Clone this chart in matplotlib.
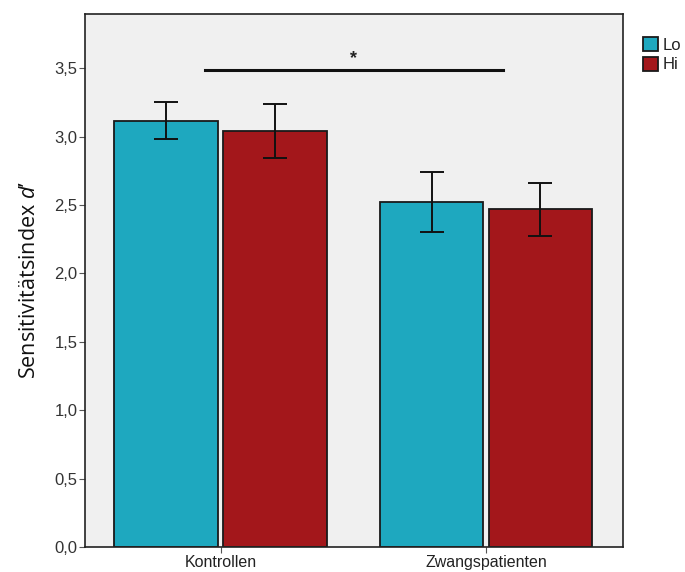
import matplotlib
matplotlib.use("Agg")
import matplotlib.pyplot as plt
import numpy as np

categories = ["Kontrollen", "Zwangspatienten"]
series = ["Lo", "Hi"]
means_lo = [3.115, 2.52]
means_hi = [3.04, 2.47]
upper_lo = [3.253, 2.744]
lower_lo = [2.980, 2.300]
upper_hi = [3.236, 2.663]
lower_hi = [2.844, 2.273]
ytick_vals = [0.0, 0.5, 1.0, 1.5, 2.0, 2.5, 3.0, 3.5]
ytick_labels = ["0,0", "0,5", "1,0", "1,5", "2,0", "2,5", "3,0", "3,5"]
sig_level = 3.487
sig_text = "*"

plt.rcParams['mathtext.fontset'] = 'custom'
plt.rcParams['mathtext.it'] = 'Open Sans:italic'
plt.rcParams['mathtext.rm'] = 'Open Sans'

fig = plt.figure(figsize=(6.85, 5.72), dpi=100)
ax = fig.add_axes([0.124, 0.0437, 0.7855, 0.9318])
ax.set_facecolor("#f0f0f0")

x = np.arange(len(categories))
off = 0.205
w = 0.39
c_lo = "#1ea8bf"
c_hi = "#a3171b"
edge = "#1a1a1a"
ax.bar(x - off, means_lo, width=w, color=c_lo, edgecolor=edge, linewidth=1.3, label=series[0], zorder=2)
ax.bar(x + off, means_hi, width=w, color=c_hi, edgecolor=edge, linewidth=1.3, label=series[1], zorder=2)

ml = np.array(means_lo); mh = np.array(means_hi)
ax.errorbar(x - off, ml, yerr=[ml - np.array(lower_lo), np.array(upper_lo) - ml],
            fmt="none", ecolor="#111111", elinewidth=1.4, capsize=8.3, capthick=1.4, zorder=3)
ax.errorbar(x + off, mh, yerr=[mh - np.array(lower_hi), np.array(upper_hi) - mh],
            fmt="none", ecolor="#111111", elinewidth=1.4, capsize=8.3, capthick=1.4, zorder=3)

ax.plot([-0.057, 1.065], [sig_level, sig_level], color="#111111", lw=2.2, zorder=3)
ax.text(0.502, sig_level + 0.02, sig_text, ha="center", va="bottom", fontsize=13,
        fontweight="bold", color="#222222", family="Liberation Sans")

ax.set_xlim(-0.511, 1.516)
ax.set_ylim(0, 3.896)
ax.set_xticks(x)
ax.set_xticklabels(categories, fontsize=11.5, family="Liberation Sans", color="#222222")
ax.set_yticks(ytick_vals)
ax.set_yticklabels(ytick_labels, fontsize=12, family="Liberation Sans", color="#333333")
ax.tick_params(axis="both", direction="out", length=4, width=0.8, color="#555555", pad=1.5)
for s in ax.spines.values():
    s.set_color("#222222")
    s.set_linewidth(1.2)

ax.set_ylabel("Sensitivitätsindex $d$’", fontsize=15.5, family="Open Sans", color="#111111", labelpad=10)

leg = ax.legend(loc="upper left", bbox_to_anchor=(1.037, 0.957), frameon=False,
                handlelength=0.9, handleheight=0.9, handletextpad=0.3, labelspacing=0.25,
                borderaxespad=0, borderpad=0, prop={"family": "Liberation Sans", "size": 12})
for t in leg.get_texts():
    t.set_color("#222222")

fig.savefig("out.png", dpi=100, facecolor="white")
